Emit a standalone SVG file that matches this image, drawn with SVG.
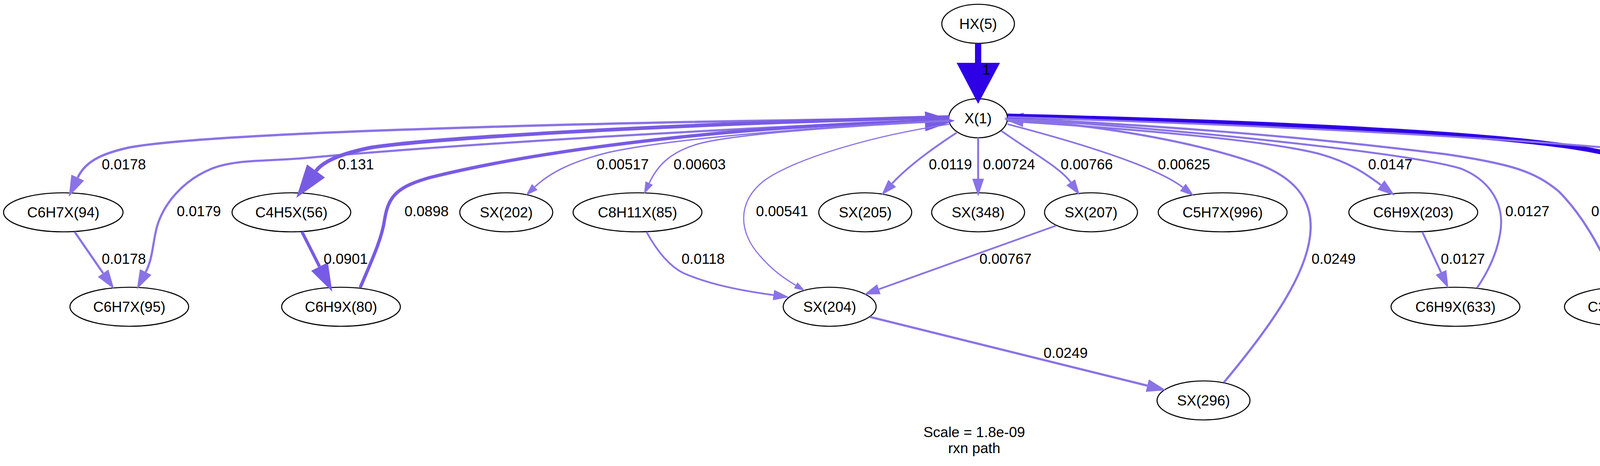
<svg xmlns="http://www.w3.org/2000/svg" width="4987" height="1194" viewBox="0 0 4987 1194">
<style>
text{font-family:"Liberation Sans",Arial,Helvetica,sans-serif;font-size:37px;text-anchor:middle;fill:#000}
.n ellipse{fill:#fff;stroke:#000;stroke-width:2.7}
.e path{fill:none}
.l{stroke:#8A73E6}
.m{stroke:#785BE4}
.d{stroke:#2E00E6}
</style>
<defs>
<marker id="ml" viewBox="0 0 10 10" refX="0" refY="5" markerUnits="strokeWidth" markerWidth="9" markerHeight="6" preserveAspectRatio="none" orient="auto"><path d="M0,0 L10,5 L0,10 z" fill="#8A73E6"/></marker>
<marker id="mm" viewBox="0 0 10 10" refX="0" refY="5" markerUnits="strokeWidth" markerWidth="9" markerHeight="6" preserveAspectRatio="none" orient="auto"><path d="M0,0 L10,5 L0,10 z" fill="#785BE4"/></marker>
</defs>
<rect width="4987" height="1194" fill="#fff"/>
<g id="nodes">
<g class="n" id="HX5"><ellipse cx="2504" cy="61" rx="93" ry="50"/><text x="2504" y="74">HX(5)</text></g>
<g class="n" id="X1"><ellipse cx="2504" cy="303" rx="75" ry="50"/><text x="2504" y="316">X(1)</text></g>
<g class="n" id="allylX28"><ellipse cx="4810" cy="302" rx="132" ry="50"/><text x="4810" y="315">allylX(28)</text></g>
<g class="n" id="C6H7X94"><ellipse cx="162" cy="544" rx="153" ry="50"/><text x="162" y="557">C6H7X(94)</text></g>
<g class="n" id="C4H5X56"><ellipse cx="746" cy="544" rx="152" ry="50"/><text x="746" y="557">C4H5X(56)</text></g>
<g class="n" id="SX202"><ellipse cx="1296" cy="544" rx="119" ry="50"/><text x="1296" y="557">SX(202)</text></g>
<g class="n" id="C8H11X85"><ellipse cx="1632" cy="544" rx="165" ry="50"/><text x="1632" y="557">C8H11X(85)</text></g>
<g class="n" id="SX205"><ellipse cx="2215" cy="544" rx="119" ry="50"/><text x="2215" y="557">SX(205)</text></g>
<g class="n" id="SX348"><ellipse cx="2504" cy="544" rx="119" ry="50"/><text x="2504" y="557">SX(348)</text></g>
<g class="n" id="SX207"><ellipse cx="2793" cy="544" rx="119" ry="50"/><text x="2793" y="557">SX(207)</text></g>
<g class="n" id="C5H7X996"><ellipse cx="3130" cy="544" rx="165" ry="50"/><text x="3130" y="557">C5H7X(996)</text></g>
<g class="n" id="C6H9X203"><ellipse cx="3618" cy="544" rx="165" ry="50"/><text x="3618" y="557">C6H9X(203)</text></g>
<g class="n" id="C2H3X27"><ellipse cx="4443" cy="544" rx="152" ry="50"/><text x="4443" y="557">C2H3X(27)</text></g>
<g class="n" id="C3H5X346"><ellipse cx="4809" cy="544" rx="166" ry="50"/><text x="4809" y="557">C3H5X(346)</text></g>
<g class="n" id="C6H7X95"><ellipse cx="331" cy="786" rx="152" ry="50"/><text x="331" y="799">C6H7X(95)</text></g>
<g class="n" id="C6H9X80"><ellipse cx="873" cy="786" rx="152" ry="50"/><text x="873" y="799">C6H9X(80)</text></g>
<g class="n" id="SX204"><ellipse cx="2124" cy="786" rx="119" ry="50"/><text x="2124" y="799">SX(204)</text></g>
<g class="n" id="C6H9X633"><ellipse cx="3726" cy="786" rx="165" ry="50"/><text x="3726" y="799">C6H9X(633)</text></g>
<g class="n" id="C3H5X35"><ellipse cx="4157" cy="786" rx="152" ry="50"/><text x="4157" y="799">C3H5X(35)</text></g>
<g class="n" id="SX296"><ellipse cx="3081" cy="1026" rx="119" ry="50"/><text x="3081" y="1039">SX(296)</text></g>
</g>
<g class="e" id="edges">
<path class="d" style="stroke-width:16" d="M2504,111 L2504,163"/>
<polygon points="2449,161 2560,161 2504,266" fill="#2E00E6"/>
<path class="l" style="stroke-width:6" marker-end="url(#ml)" d="M2430,303 C1700,310 560,335 330,378 C268,392 220,410 199,455"/>
<path class="l" style="stroke-width:5.5" marker-end="url(#ml)" d="M2430,306 C1600,340 1000,385 780,405 C680,414 600,408 540,433 C470,462 420,520 402,580 C390,625 392,660 373,697"/>
<path class="m" style="stroke-width:9.5" marker-end="url(#mm)" d="M2430,300 C1700,318 1100,355 950,378 C880,392 828,412 809,438"/>
<path class="m" style="stroke-width:8.5" marker-end="url(#mm)" d="M922,737 C955,660 978,610 985,560 C995,500 1020,478 1100,455 C1400,380 1900,322 2368,311"/>
<path class="m" style="stroke-width:8" marker-end="url(#mm)" d="M773,594 L818,683"/>
<path class="l" style="stroke-width:5.5" marker-end="url(#ml)" d="M191,594 L264,700"/>
<path class="l" style="stroke-width:3.5" marker-end="url(#ml)" d="M2430,308 C2000,330 1700,360 1560,390 C1470,412 1410,440 1369,479"/>
<path class="l" style="stroke-width:3.5" marker-end="url(#ml)" d="M2430,310 C2200,322 1900,340 1790,368 C1720,388 1685,420 1662,469"/>
<path class="l" style="stroke-width:3" marker-end="url(#ml)" d="M2432,318 C2250,345 2050,400 1960,460 C1880,520 1895,600 1945,655 C1975,690 2005,712 2037,731"/>
<path class="l" style="stroke-width:4.5" marker-end="url(#ml)" d="M1655,594 C1680,640 1710,680 1750,700 C1820,730 1900,745 1980,756"/>
<path class="l" style="stroke-width:4.5" marker-end="url(#ml)" d="M2704,578 L2250,741"/>
<path class="l" style="stroke-width:5.5" marker-end="url(#ml)" d="M2227,812 L2937,988"/>
<path class="l" style="stroke-width:5.5" marker-end="url(#ml)" d="M3133,980 C3250,840 3350,700 3355,590 C3360,500 3300,450 3220,420 C3050,360 2800,320 2620,309"/>
<path class="l" style="stroke-width:4.5" marker-end="url(#ml)" d="M2449,340 C2400,372 2330,420 2284,470"/>
<path class="l" style="stroke-width:5" marker-end="url(#ml)" d="M2504,353 L2504,458"/>
<path class="l" style="stroke-width:4.5" marker-end="url(#ml)" d="M2563,335 C2640,390 2715,430 2741,467"/>
<path class="l" style="stroke-width:4" marker-end="url(#ml)" d="M2579,318 C2720,355 2950,420 3028,480"/>
<path class="l" style="stroke-width:5" marker-end="url(#ml)" d="M2580,310 C2900,330 3250,360 3380,395 C3450,415 3490,440 3535,474"/>
<path class="l" style="stroke-width:5" marker-end="url(#ml)" d="M3641,594 L3689,698"/>
<path class="l" style="stroke-width:5" marker-end="url(#ml)" d="M3781,738 C3800,710 3830,660 3840,600 C3855,520 3810,460 3740,432 C3600,390 3000,330 2620,306"/>
<path class="l" style="stroke-width:5.5" marker-end="url(#ml)" d="M4139,734 C4110,660 4060,560 3990,490 C3930,440 3870,420 3700,395 C3300,345 2900,318 2620,305"/>
<path class="l" style="stroke-width:5.5" marker-end="url(#ml)" d="M4706,582 L4296,731"/>
<path class="d" style="stroke-width:12" d="M2579,297 C3300,315 3900,345 4100,390 C4200,412 4260,440 4305,470"/>
<polygon points="4321,416 4273,503 4387,508" fill="#2E00E6"/>
<path class="l" style="stroke-width:5" marker-end="url(#ml)" d="M2580,300 C3400,325 4150,370 4400,410 C4520,430 4600,440 4679,484"/>
<path class="l" style="stroke-width:4.5" marker-end="url(#ml)" d="M4810,352 L4810,456"/>
</g>
<g id="labels">
<text x="2525" y="191">1</text>
<text x="317" y="434">0.0178</text>
<text x="911" y="434">0.131</text>
<text x="1594" y="434">0.00517</text>
<text x="1791" y="434">0.00603</text>
<text x="2433" y="434">0.0119</text>
<text x="2583" y="434">0.00724</text>
<text x="2782" y="434">0.00766</text>
<text x="3031" y="434">0.00625</text>
<text x="3559" y="434">0.0147</text>
<text x="4317" y="434">0.574</text>
<text x="4600" y="434">0.0105</text>
<text x="4878" y="434">0.0109</text>
<text x="509" y="554">0.0179</text>
<text x="1092" y="554">0.0898</text>
<text x="2002" y="554">0.00541</text>
<text x="3910" y="554">0.0127</text>
<text x="4130" y="554">0.0221</text>
<text x="317" y="676">0.0178</text>
<text x="885" y="676">0.0901</text>
<text x="1800" y="676">0.0118</text>
<text x="2574" y="676">0.00767</text>
<text x="3414" y="676">0.0249</text>
<text x="3745" y="676">0.0127</text>
<text x="4588" y="676">0.0221</text>
<text x="2728" y="917">0.0249</text>
<text x="2494" y="1120">Scale = 1.8e-09</text>
<text x="2494" y="1161">rxn path</text>
</g>
</svg>
